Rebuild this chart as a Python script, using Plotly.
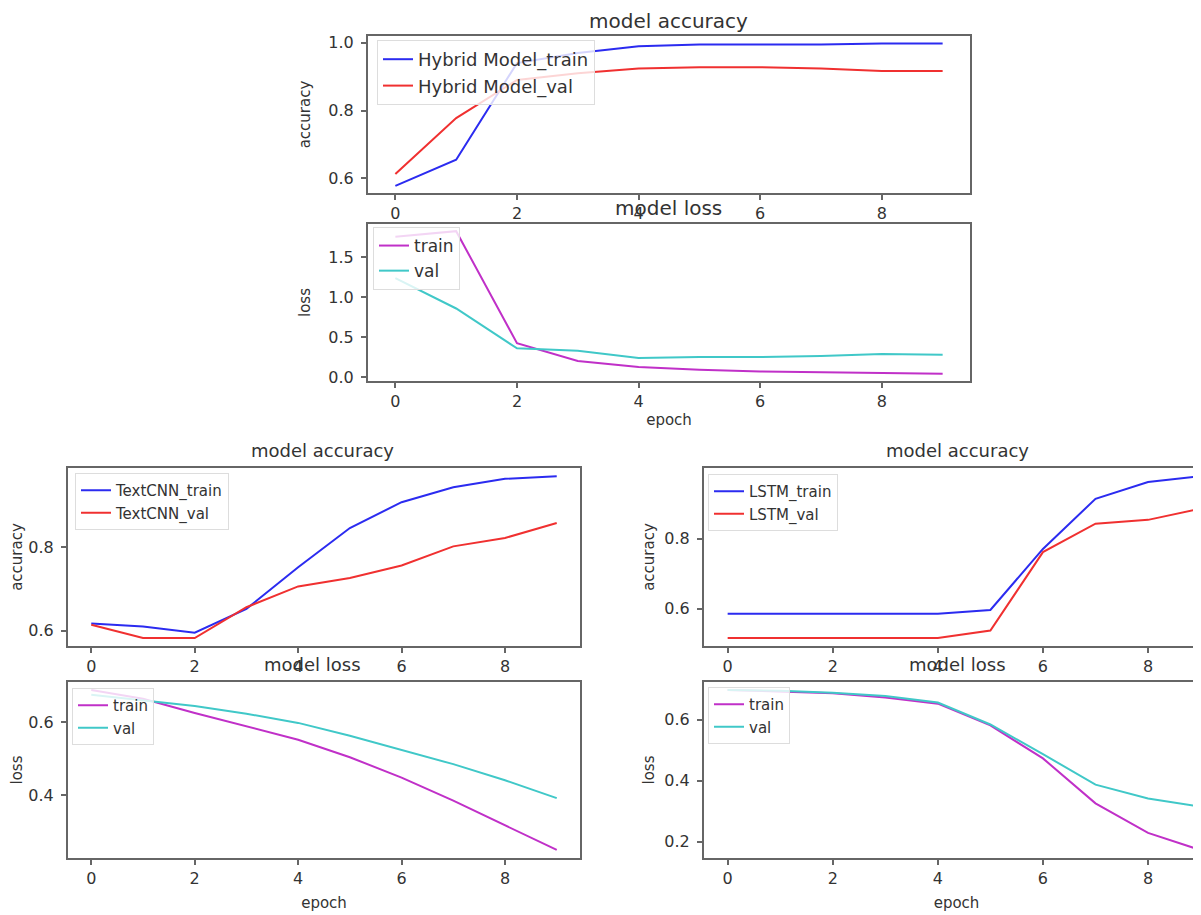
import plotly.graph_objects as go

epochs = list(range(10))

# Hybrid model
hybrid_acc_train = [0.578, 0.655, 0.94, 0.97, 0.99, 0.995, 0.995, 0.995, 0.998, 0.998]
hybrid_acc_val = [0.613, 0.778, 0.89, 0.91, 0.924, 0.928, 0.928, 0.924, 0.917, 0.917]
hybrid_loss_train = [1.76, 1.83, 0.425, 0.20, 0.125, 0.09, 0.07, 0.06, 0.05, 0.04]
hybrid_loss_val = [1.24, 0.86, 0.36, 0.33, 0.24, 0.25, 0.25, 0.265, 0.29, 0.28]

# TextCNN
textcnn_acc_train = [0.617, 0.61, 0.595, 0.652, 0.752, 0.846, 0.908, 0.944, 0.964, 0.97]
textcnn_acc_val = [0.614, 0.582, 0.582, 0.656, 0.706, 0.726, 0.756, 0.802, 0.822, 0.858]
textcnn_loss_train = [0.688, 0.664, 0.625, 0.588, 0.552, 0.504, 0.448, 0.385, 0.318, 0.25]
textcnn_loss_val = [0.675, 0.66, 0.644, 0.623, 0.598, 0.563, 0.525, 0.485, 0.441, 0.392]

# LSTM
lstm_acc_train = [0.586, 0.586, 0.586, 0.586, 0.586, 0.597, 0.771, 0.914, 0.962, 0.979]
lstm_acc_val = [0.517, 0.517, 0.517, 0.517, 0.517, 0.538, 0.762, 0.843, 0.854, 0.886]
lstm_loss_train = [0.697, 0.691, 0.686, 0.672, 0.652, 0.581, 0.473, 0.326, 0.229, 0.173]
lstm_loss_val = [0.697, 0.694, 0.688, 0.677, 0.656, 0.584, 0.487, 0.387, 0.342, 0.315]

x_tick_vals = [0, 2, 4, 6, 8]

BLUE = "#2b2bf0"
RED = "#f03030"
MAG = "#c030c8"
CYAN = "#40c8c8"
FRAME = "#666666"
TXT = "#333333"
FONT = "DejaVu Sans"

W, H = 1201, 915
OFF = 8  # default page body margin


def px_x(p):
    return (p - OFF) / W


def px_y(p):
    return 1 - (p - OFF) / H


fig = go.Figure()

# (axis suffix, x px domain, y px (top,bottom), xrange, yrange, yticks, ylabel, epoch, tick font, label font, ystandoff, xstandoff)
panels = [
    ("", (368, 970), (36, 193), [-0.45, 9.45], [0.557, 1.02], [0.6, 0.8, 1.0], "accuracy", False, 16, 15, 14, 6),
    ("2", (368, 970), (224, 381), [-0.45, 9.45], [-0.05, 1.92], [0.0, 0.5, 1.0, 1.5], "loss", True, 16, 15, 14, 4),
    ("3", (68, 580), (468, 646), [-0.45, 9.45], [0.563, 0.99], [0.6, 0.8], "accuracy", False, 16, 15, 6, 6),
    ("4", (704, 1209), (468, 646), [-0.45, 9.16], [0.494, 1.002], [0.6, 0.8], "accuracy", False, 16, 15, 6, 6),
    ("5", (68, 580), (682, 858), [-0.45, 9.45], [0.228, 0.71], [0.4, 0.6], "loss", True, 16, 15, 6, 10),
    ("6", (704, 1209), (682, 858), [-0.45, 9.16], [0.147, 0.723], [0.2, 0.4, 0.6], "loss", True, 16, 15, 6, 10),
]

series = [
    [("Hybrid Model_train", hybrid_acc_train, BLUE), ("Hybrid Model_val", hybrid_acc_val, RED)],
    [("train", hybrid_loss_train, MAG), ("val", hybrid_loss_val, CYAN)],
    [("TextCNN_train", textcnn_acc_train, BLUE), ("TextCNN_val", textcnn_acc_val, RED)],
    [("LSTM_train", lstm_acc_train, BLUE), ("LSTM_val", lstm_acc_val, RED)],
    [("train", textcnn_loss_train, MAG), ("val", textcnn_loss_val, CYAN)],
    [("train", lstm_loss_train, MAG), ("val", lstm_loss_val, CYAN)],
]

legend_pos = [(377, 40), (373, 227), (75, 473), (708, 474), (72, 688), (708, 687)]
legend_font = [18, 17, 15, 15, 15, 15]

layout = dict(
    width=W, height=H,
    margin=dict(l=0, r=0, t=0, b=0),
    paper_bgcolor="white", plot_bgcolor="white",
    font=dict(family=FONT, color=TXT, size=15),
    showlegend=True,
)

for i, (suf, xd, yd, xr, yr, yt, ylab, epoch, tfs, lfs, ystd, xstd) in enumerate(panels):
    legname = "legend" if i == 0 else f"legend{i + 1}"
    for name, vals, col in series[i]:
        fig.add_trace(go.Scatter(
            x=epochs, y=vals, mode="lines", name=name,
            line=dict(color=col, width=2),
            xaxis="x" + suf, yaxis="y" + suf, legend=legname,
        ))
    ax_common = dict(
        showgrid=False, zeroline=False, showline=True, mirror=True,
        linecolor=FRAME, linewidth=2, ticks="outside", ticklen=5,
        tickcolor=FRAME, tickwidth=1.5, tickfont=dict(size=tfs, color=TXT),
        automargin=False,
    )
    layout["xaxis" + suf] = dict(
        ax_common, domain=[px_x(xd[0]), min(1.0, px_x(xd[1]))], range=xr,
        tickvals=x_tick_vals, anchor="y" + suf,
        title=dict(text="epoch" if epoch else "", font=dict(size=lfs), standoff=xstd),
    )
    layout["yaxis" + suf] = dict(
        ax_common, domain=[px_y(yd[1]), px_y(yd[0])], range=yr,
        tickvals=yt, tickformat=".1f", anchor="x" + suf, ticklabelstandoff=4,
        title=dict(text=ylab, font=dict(size=lfs), standoff=ystd),
    )
    lx, ly = legend_pos[i]
    layout[legname] = dict(
        x=px_x(lx), y=px_y(ly), xanchor="left", yanchor="top",
        xref="paper", yref="paper",
        bgcolor="rgba(255,255,255,0.8)", bordercolor="#dddddd", borderwidth=1,
        font=dict(size=legend_font[i], color=TXT), tracegroupgap=0,
    )

# (text, x px, y px, anchor, font size)
titles = [
    ("model accuracy", 668, 8, "top", 20),
    ("model loss", 668, 208, "middle", 20),
    ("model accuracy", 322, 450, "middle", 18),
    ("model accuracy", 957, 450, "middle", 18),
    ("model loss", 312, 664, "middle", 18),
    ("model loss", 957, 664, "middle", 18),
]
annotations = []
for text, x, y, anc, fs in titles:
    annotations.append(dict(
        text=text, x=px_x(x), y=px_y(y), xref="paper", yref="paper",
        xanchor="center", yanchor=anc, showarrow=False, borderpad=0,
        font=dict(size=fs, color=TXT, family=FONT),
    ))
layout["annotations"] = annotations

fig.update_layout(**layout)
fig.write_html("out.html")
